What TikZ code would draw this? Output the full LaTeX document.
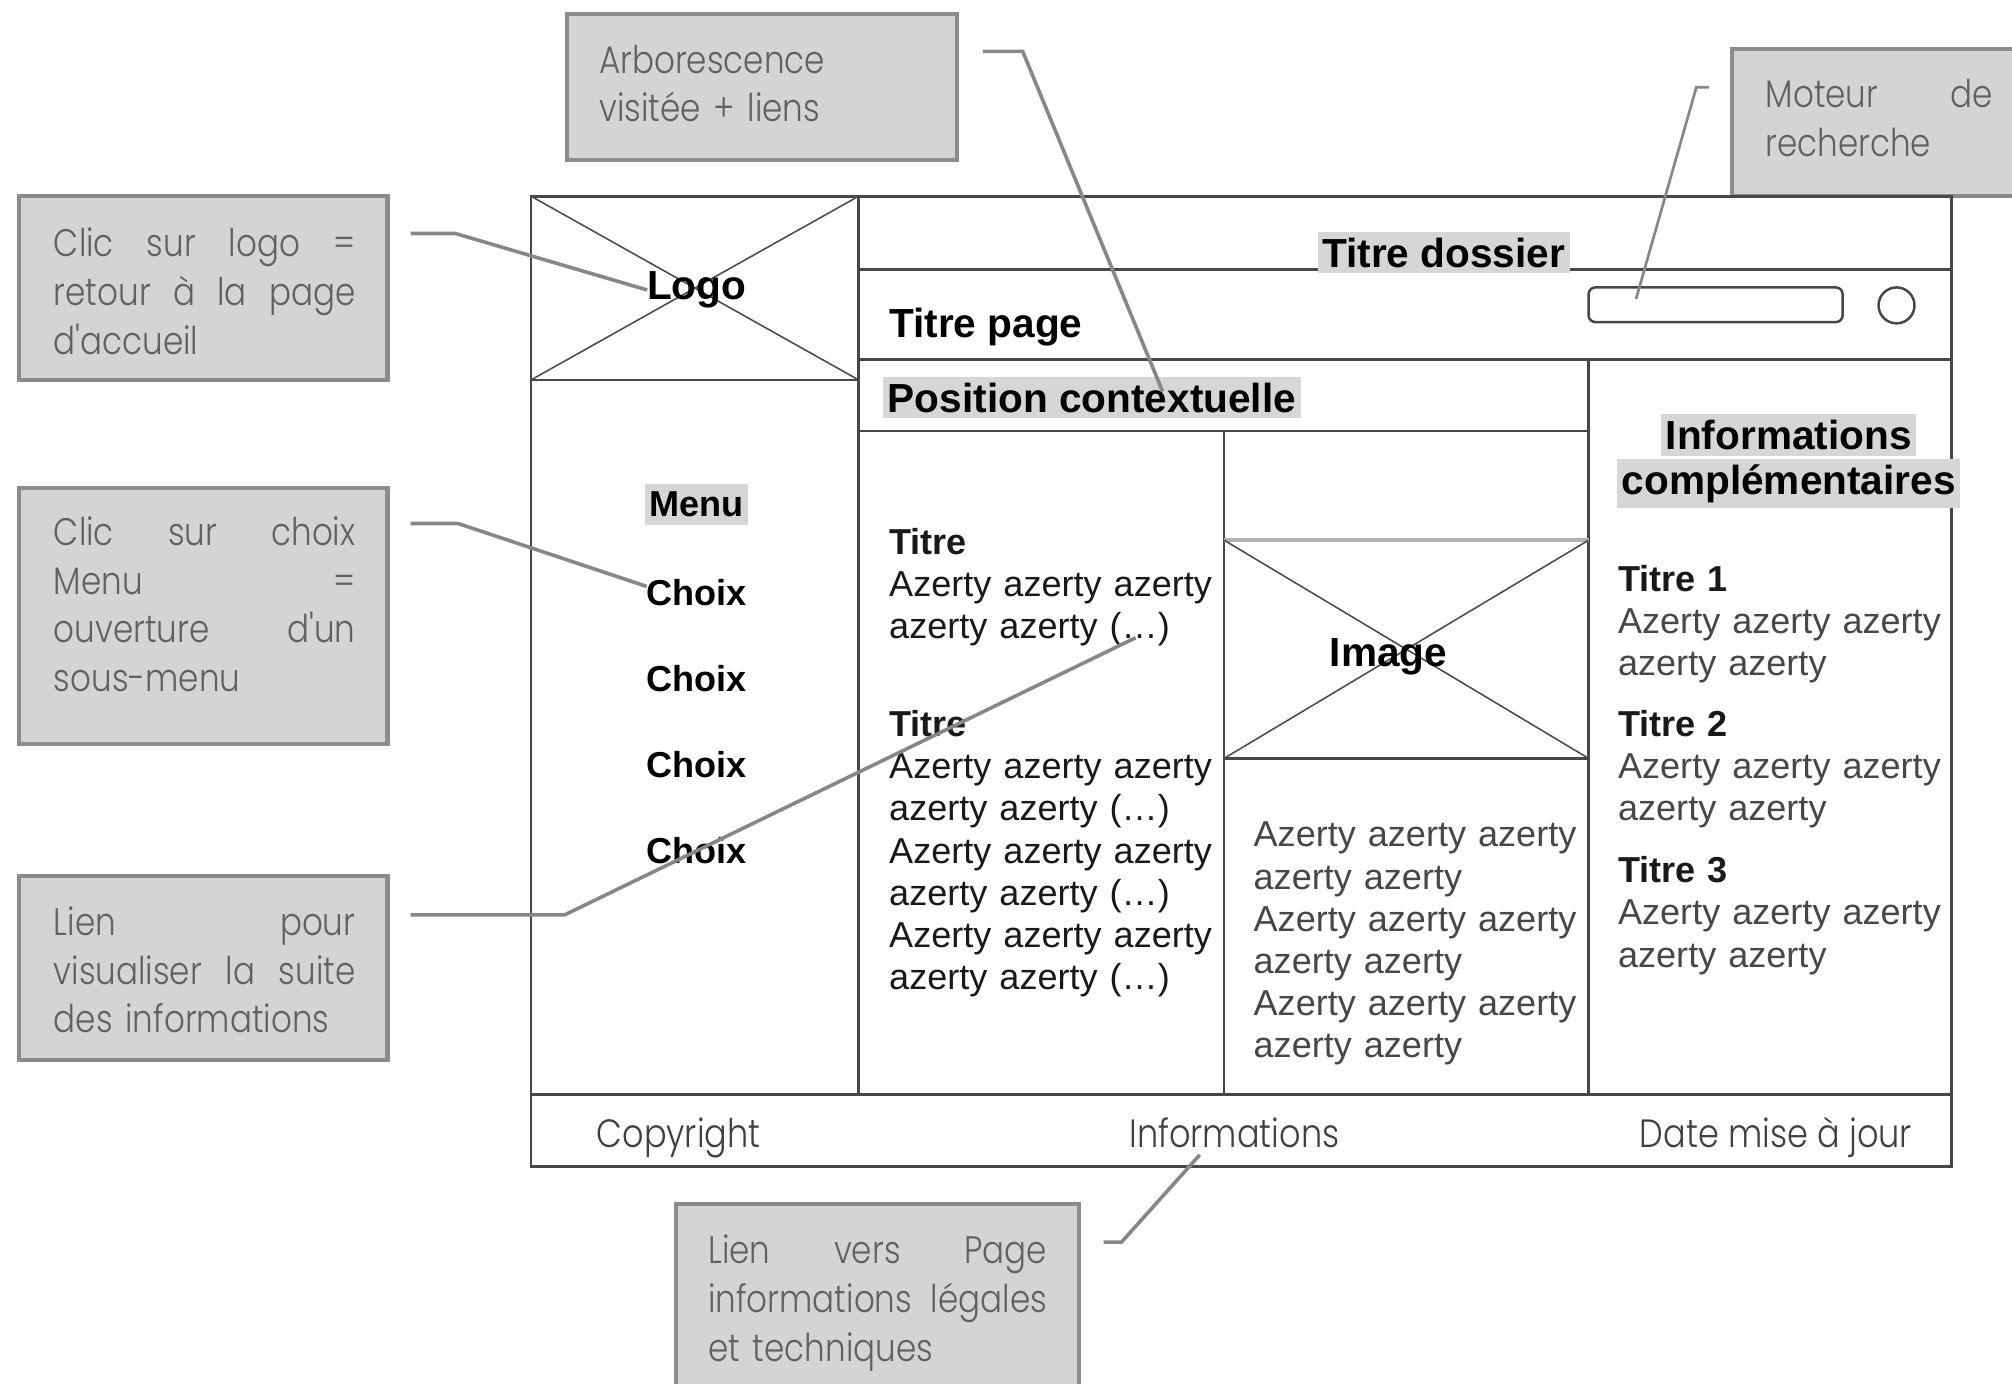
\documentclass[tikz,border=0pt]{standalone}
\usepackage{fontspec}
\setmainfont{Liberation Sans}
\newfontfamily\notefont{Poppins Light}[FakeStretch=0.85]
% a line whose word spaces stretch to the given width
\newcommand\jline[2]{\leavevmode\hbox to #1{\spaceskip=0.3em plus 1fil\relax #2}}
\begin{document}
\begin{tikzpicture}[x=0.02cm,y=-0.02cm,
  every node/.style={inner sep=0pt, outer sep=0pt},
  callout/.style={draw=black!45, fill=black!17, line width=1.8pt, anchor=north west},
  note/.style={font=\notefont\fontsize{17}{21.6}\selectfont, text=black!62, anchor=base west, align=left},
  lead/.style={draw=black!47, line width=1.6pt},
  wire/.style={draw=black!72, line width=1.1pt},
  cross/.style={draw=black!70, line width=0.7pt},
  hl/.style={fill=black!16, inner xsep=2pt, inner ysep=2.5pt},
  big/.style={font=\fontsize{18}{21}\selectfont\bfseries},
  lbl/.style={font=\fontsize{16}{18.7}\selectfont\bfseries},
  body/.style={font=\fontsize{16}{18.7}\selectfont, anchor=base west, align=left, text width=5.4cm},
  foot/.style={font=\notefont\fontsize{17.5}{20}\selectfont, text=black!75},
]
\useasboundingbox (0,0) rectangle (1568,1078);

% ---- callout boxes ----
\node[callout, minimum width=304*0.02cm, minimum height=114*0.02cm] (cArb) at (442,11) {};
\node[note, text width=5.1cm] (tArb) at (467,57) {Arborescence\\visitée + liens};

\node[callout, minimum width=230*0.02cm, minimum height=115*0.02cm] (cMot) at (1350,38) {};
\node[note, text width=3.6cm] (tMot) at (1376,84) {\jline{3.54cm}{Moteur de}\\recherche};

\node[callout, minimum width=287*0.02cm, minimum height=143*0.02cm] (cLogo) at (15,153) {};
\node[note, text width=4.8cm] (tLogo) at (42,200) {\jline{4.7cm}{Clic sur logo =}\\\jline{4.7cm}{retour à la page}\\d'accueil};

\node[callout, minimum width=287*0.02cm, minimum height=200*0.02cm] (cMenu) at (15,380) {};
\node[note, text width=4.8cm] (tMenu) at (42,425) {\jline{4.7cm}{Clic sur choix}\\\jline{4.7cm}{Menu =}\\\jline{4.7cm}{ouverture d'un}\\sous-menu};

\node[callout, minimum width=287*0.02cm, minimum height=143*0.02cm] (cLien) at (15,683) {};
\node[note, text width=4.8cm] (tLien) at (42,729) {\jline{4.7cm}{Lien pour}\\\jline{4.7cm}{visualiser la suite}\\des informations};

\node[callout, minimum width=314*0.02cm, minimum height=160*0.02cm] (cLeg) at (527,938) {};
\node[note, text width=5.4cm] (tLeg) at (552,985) {\jline{5.28cm}{Lien vers Page}\\\jline{5.28cm}{informations légales}\\et techniques};

% ---- page wireframe ----
\draw[wire] (414,153) rectangle (1521,909);
\draw[wire] (669,153) -- (669,853);
\draw[wire] (414,296) -- (669,296);
\draw[wire] (669,210) -- (1521,210);
\draw[wire] (669,280) -- (1521,280);
\draw[wire] (669,336) -- (1238,336);
\draw[wire] (1238,280) -- (1238,853);
\draw[wire] (954,336) -- (954,853);
\draw[wire, line width=1.6pt] (414,853) -- (1521,853);

% logo placeholder
\draw[cross] (414,153) -- (669,296) (669,153) -- (414,296);
% image placeholder
\draw[draw=black!30, line width=1.6pt] (954,421) -- (1238,421);
\draw[wire] (954,591) -- (1238,591);
\draw[cross] (954,421) -- (1238,591) (1238,421) -- (954,591);

% search field and button
\node[draw=black!72, line width=1.1pt, rounded corners=3pt, minimum width=198*0.02cm, minimum height=27*0.02cm] (search) at (1337,237.5) {};
\node[draw=black!72, line width=1.1pt, circle, minimum size=28*0.02cm] (go) at (1478,238) {};

% ---- labels ----
\node[big, hl] (dossier) at (1125,197) {Titre dossier};
\node[big, anchor=base west] (tpage) at (693,263) {Titre page};
\node[big, hl] (pos) at (851,310) {Position contextuelle};
\node[big] (logo) at (543,226) {Logo};
\node[big] (img) at (1082,512) {Image};

\node[lbl, hl, inner ysep=3.5pt] (menu) at (543,393) {Menu};
\node[lbl] (ch1) at (543,462) {Choix};
\node[lbl] (ch2) at (543,529) {Choix};
\node[lbl] (ch3) at (543,596) {Choix};
\node[lbl] (ch4) at (543,663) {Choix};

\node[body, text=black!90] (colA) at (693,432) {\textbf{Titre}\\Azerty azerty azerty\\azerty azerty (…)};
\node[body, text=black!90] (colB) at (693,574) {\textbf{Titre}\\Azerty azerty azerty\\azerty azerty (…)\\Azerty azerty azerty\\azerty azerty (…)\\Azerty azerty azerty\\azerty azerty (…)};
\node[body, text=black!72] (colC) at (977,660) {Azerty azerty azerty\\azerty azerty\\Azerty azerty azerty\\azerty azerty\\Azerty azerty azerty\\azerty azerty};

\node[big, hl] (inf1) at (1394,339) {Informations};
\node[big, hl] (inf2) at (1394,377) {complémentaires};
\node[body, text=black!72] (r1) at (1261,461) {\textcolor{black!90}{\textbf{Titre 1}}\\Azerty azerty azerty\\azerty azerty};
\node[body, text=black!72] (r2) at (1261,574) {\textcolor{black!90}{\textbf{Titre 2}}\\Azerty azerty azerty\\azerty azerty};
\node[body, text=black!72] (r3) at (1261,688) {\textcolor{black!90}{\textbf{Titre 3}}\\Azerty azerty azerty\\azerty azerty};

\node[foot, anchor=base west] (copy) at (465,894) {Copyright};
\node[foot, anchor=base] (infos) at (962,894) {Informations};
\node[foot, anchor=base east] (date) at (1490,894) {Date mise à jour};

% ---- leader lines ----
\coordinate (aArb) at (766,40);
\coordinate (eArb) at (906,305);
\coordinate (aMot) at (1332,68);
\coordinate (eMot) at (1275,233);
\coordinate (aLogo) at (320,182);
\coordinate (aMenu) at (320,408);
\coordinate (aLien) at (320,713);
\coordinate (eLien) at (885,497);
\coordinate (aLeg) at (860,968);
\coordinate (eLeg) at (935,900);

\draw[lead] (aArb) -- ++(31,0) -- (eArb);
\draw[lead, line width=1.2pt] (aMot) -- ++(-10,0) -- (eMot);
\draw[lead] (aLogo) -- ++(35,0) -- (logo.west);
\draw[lead] (aMenu) -- ++(37,0) -- ([yshift=0.1cm]ch1.west);
\draw[lead] (aLien) -- ++(120,0) -- (eLien);
\draw[lead] (aLeg) -- ++(14,0) -- (eLeg);
\end{tikzpicture}
\end{document}
